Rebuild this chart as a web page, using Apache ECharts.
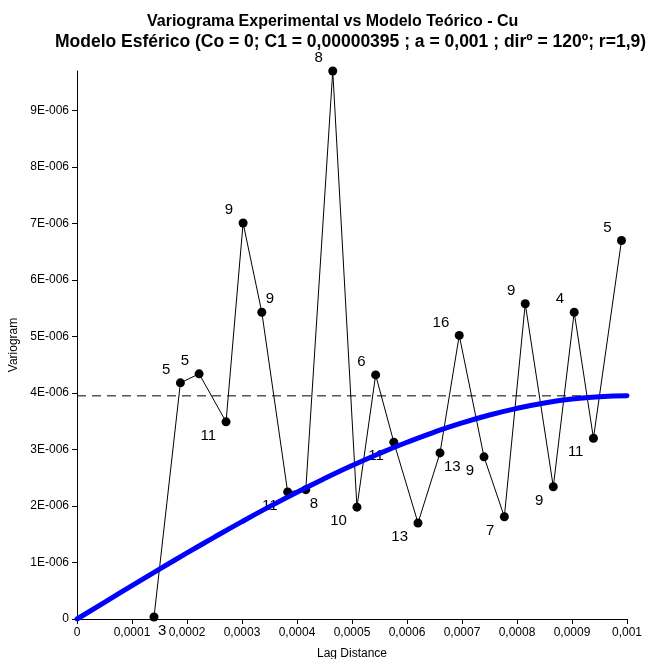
<!DOCTYPE html>
<html>
<head>
<meta charset="utf-8">
<script src="https://cdn.jsdelivr.net/npm/echarts@6/dist/echarts.min.js"></script>
<style>
  html, body { margin: 0; padding: 0; background: #fff; }
  #chart { width: 653px; height: 659px; }
</style>
</head>
<body>
<div id="chart"></div>
<script>
// Experimental variogram: lag distance, semivariance, number of pairs
const lagExp = [0.000140, 0.000188, 0.000222, 0.000271, 0.000302, 0.000336, 0.000383, 0.000416,
                0.000465, 0.000509, 0.000543, 0.000576, 0.000620, 0.000660, 0.000695, 0.000740,
                0.000777, 0.000815, 0.000866, 0.000904, 0.000939, 0.000990];
const gammaExp = [3.5e-8, 4.18e-6, 4.34e-6, 3.49e-6, 7.01e-6, 5.43e-6, 2.25e-6, 2.29e-6,
                  9.70e-6, 1.98e-6, 4.32e-6, 3.13e-6, 1.70e-6, 2.94e-6, 5.02e-6, 2.87e-6,
                  1.81e-6, 5.58e-6, 2.34e-6, 5.43e-6, 3.20e-6, 6.70e-6];
const pairs = [3, 5, 5, 11, 9, 9, 11, 8, 8, 10, 6, 11, 13, 13, 16, 9, 7, 9, 9, 4, 11, 5];

// Spherical model (Co = 0, C1 = 3.95e-6, a = 0.001)
const lagModel = [0, 0.00005, 0.0001, 0.00015, 0.0002, 0.00025, 0.0003, 0.00035, 0.0004, 0.00045,
                  0.0005, 0.00055, 0.0006, 0.00065, 0.0007, 0.00075, 0.0008, 0.00085, 0.0009,
                  0.00095, 0.001];
const gammaModel = [0, 0.296e-6, 0.590e-6, 0.882e-6, 1.169e-6, 1.450e-6, 1.724e-6, 1.989e-6,
                    2.244e-6, 2.486e-6, 2.716e-6, 2.930e-6, 3.128e-6, 3.309e-6, 3.470e-6,
                    3.611e-6, 3.729e-6, 3.823e-6, 3.893e-6, 3.935e-6, 3.950e-6];
const sill = 3.95e-6;

// where each pair-count label sits around its point: ul, ll, ur, lr
const labelSide = ['lr', 'ul', 'ul', 'll', 'ul', 'ur', 'll', 'lr', 'ul', 'll', 'ul',
                   'll', 'll', 'lr', 'ul', 'll', 'll', 'ul', 'll', 'ul', 'll', 'ul'];

const font = 'Liberation Sans, Arial, sans-serif';

function labelFor(side) {
  const left = side[1] === 'l';
  const up = side[0] === 'u';
  return {
    show: true,
    position: 'inside',
    align: left ? 'right' : 'left',
    verticalAlign: 'middle',
    offset: [left ? -10 : 4, up ? -13 : 14],
    color: '#000',
    fontFamily: font,
    fontSize: 15
  };
}

const expData = lagExp.map((x, i) => ({
  value: [x, gammaExp[i]],
  label: Object.assign(labelFor(labelSide[i]), { formatter: String(pairs[i]) })
}));

const chart = echarts.init(document.getElementById('chart'), null, { renderer: 'canvas' });

chart.setOption({
  animation: false,
  backgroundColor: '#fff',
  title: [
    {
      text: 'Variograma Experimental vs Modelo Teórico - Cu',
      left: 142, top: 9,
      textStyle: { fontFamily: font, fontSize: 16, fontWeight: 'bold', color: '#000' }
    },
    {
      text: 'Modelo Esférico (Co = 0; C1 = 0,00000395 ; a = 0,001 ; dirº = 120º; r=1,9)',
      left: 50, top: 28,
      textStyle: { fontFamily: font, fontSize: 17.5, fontWeight: 'bold', color: '#000' }
    }
  ],
  grid: { left: 77, right: 26, top: 71, bottom: 40, containLabel: false, outerBoundsMode: 'none' },
  xAxis: {
    type: 'value',
    min: 0, max: 0.001, interval: 0.0001,
    name: 'Lag Distance',
    nameLocation: 'middle',
    nameGap: 29,
    nameTextStyle: { fontFamily: font, fontSize: 12, color: '#000' },
    axisLine: { show: true, onZero: false, lineStyle: { color: '#000', width: 1 } },
    axisTick: { show: true, length: 5, lineStyle: { color: '#000' } },
    axisLabel: {
      margin: 8, color: '#000', fontFamily: font, fontSize: 12,
      formatter: v => v === 0 ? '0' : String(+v.toFixed(4)).replace('.', ',')
    },
    splitLine: { show: false }
  },
  yAxis: {
    type: 'value',
    min: 0, max: 9.7e-6, interval: 1e-6,
    name: 'Variogram',
    nameLocation: 'middle',
    nameGap: 55,
    nameTextStyle: { fontFamily: font, fontSize: 12, color: '#000' },
    axisLine: { show: true, onZero: false, lineStyle: { color: '#000', width: 1 } },
    axisTick: { show: true, length: 5, lineStyle: { color: '#000' } },
    axisLabel: {
      margin: 8, color: '#000', fontFamily: font, fontSize: 12, showMaxLabel: false,
      formatter: v => {
        const k = Math.round(v * 1e6);
        return k === 0 ? '0' : k + 'E-006';
      }
    },
    splitLine: { show: false }
  },
  series: [
    {
      name: 'Sill',
      type: 'line',
      data: [[0, sill], [0.001, sill]],
      symbol: 'none',
      lineStyle: { color: '#000', width: 1, type: [9, 6] },
      z: 1,
      silent: true
    },
    {
      name: 'Experimental',
      type: 'line',
      data: expData,
      symbol: 'circle',
      symbolSize: 9,
      itemStyle: { color: '#000' },
      lineStyle: { color: '#000', width: 1 },
      z: 2
    },
    {
      name: 'Modelo',
      type: 'line',
      data: lagModel.map((x, i) => [x, gammaModel[i]]),
      smooth: true,
      symbol: 'none',
      lineStyle: { color: '#0000ff', width: 5, cap: 'round' },
      z: 3
    }
  ]
});
</script>
</body>
</html>
